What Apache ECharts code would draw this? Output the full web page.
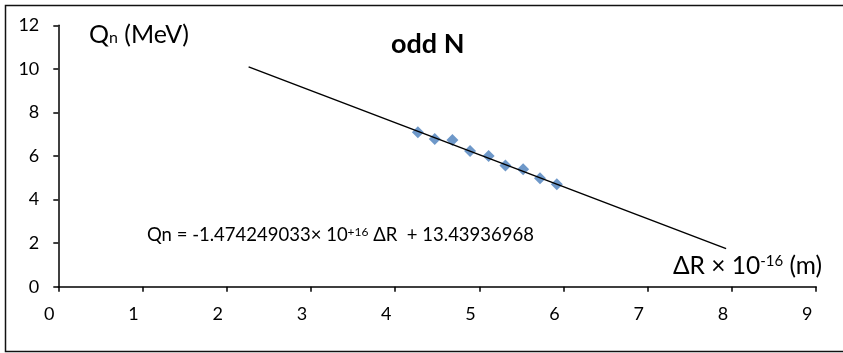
<!DOCTYPE html>
<html>
<head>
<meta charset="utf-8">
<script src="https://cdn.jsdelivr.net/npm/echarts@6/dist/echarts.min.js"></script>
<style>html,body{margin:0;padding:0;background:#fff}#c{width:843px;height:353px}</style>
</head>
<body>
<div id="c"></div>
<script>
// Data
const deltaR = [4.27, 4.47, 4.68, 4.89, 5.11, 5.31, 5.52, 5.72, 5.92];
const qn = [7.09, 6.78, 6.73, 6.23, 6.00, 5.56, 5.39, 4.98, 4.70];
const trendX = [2.26, 7.93];
const trendY = [10.09, 1.75];
const xTicks = [0, 1, 2, 3, 4, 5, 6, 7, 8, 9];
const yTicks = [0, 2, 4, 6, 8, 10, 12];
const titleText = 'odd N';

const FONT = 'Lato';
const tickRich = { t: { fontSize: 18, fontFamily: FONT, color: '#000' } };
const chart = echarts.init(document.getElementById('c'));
chart.setOption({
  animation: false,
  backgroundColor: '#fff',
  grid: { left: 58.3, right: 26.8, top: 25.3, bottom: 66.3, containLabel: false },
  xAxis: {
    type: 'value', min: xTicks[0], max: xTicks[xTicks.length - 1], interval: 1,
    splitLine: { show: false },
    axisLine: { show: true, onZero: false, lineStyle: { color: '#000', width: 1.5 } },
    axisTick: { show: true, inside: false, length: 5, lineStyle: { color: '#000', width: 1.5 } },
    axisLabel: {
      color: '#000', fontSize: 18, fontFamily: FONT, margin: 18, padding: [0, 18, 0, 0],
      formatter: v => '{t|' + v + '}', rich: tickRich
    }
  },
  yAxis: {
    type: 'value', min: yTicks[0], max: yTicks[yTicks.length - 1], interval: 2,
    splitLine: { show: false },
    axisLine: { show: true, onZero: false, lineStyle: { color: '#000', width: 1.5 } },
    axisTick: { show: true, inside: false, length: 5, lineStyle: { color: '#000', width: 1.5 } },
    axisLabel: {
      color: '#000', fontSize: 18, fontFamily: FONT, margin: 19,
      formatter: v => '{t|' + v + '}', rich: tickRich
    }
  },
  series: [
    {
      type: 'line',
      data: trendX.map((x, i) => [x, trendY[i]]),
      symbol: 'none',
      lineStyle: { color: '#000', width: 1.5 },
      z: 3
    },
    {
      type: 'scatter',
      data: deltaR.map((x, i) => [x, qn[i]]),
      symbol: 'diamond',
      symbolSize: 12,
      itemStyle: { color: '#4a7ebb' },
      z: 2
    }
  ],
  graphic: [
    {
      type: 'rect', silent: true, z: -1,
      shape: { x: 5.5, y: 5.5, width: 860, height: 346 },
      style: { fill: 'none', stroke: '#111', lineWidth: 1.5 }
    },
    {
      type: 'text', left: 89, top: 22,
      style: {
        text: '{a|Q}{b|n}{a| (MeV)}',
        rich: {
          a: { fontSize: 25, fontFamily: FONT, fill: '#000', verticalAlign: 'bottom' },
          b: { fontSize: 16, fontFamily: FONT, fill: '#000', verticalAlign: 'bottom', padding: [0, 0, 1, 0] }
        }
      }
    },
    {
      type: 'text', left: 391, top: 31,
      style: { text: titleText, fontSize: 27, fontWeight: 'bold', fontFamily: FONT, fill: '#000' }
    },
    {
      type: 'text', left: 147, top: 226,
      style: {
        text: '{a|Qn = -1.474249033× 10}{s|+16}{a| ΔR  + 13.43936968}',
        rich: {
          a: { fontSize: 18.5, fontFamily: FONT, fill: '#000', verticalAlign: 'bottom' },
          s: { fontSize: 12, fontFamily: FONT, fill: '#000', verticalAlign: 'top' }
        }
      }
    },
    {
      type: 'text', left: 673, top: 254,
      style: {
        text: '{a|ΔR × 10}{s|-16}{a| (m)}',
        rich: {
          a: { fontSize: 24.5, fontFamily: FONT, fill: '#000', verticalAlign: 'bottom' },
          s: { fontSize: 15, fontFamily: FONT, fill: '#000', verticalAlign: 'top' }
        }
      }
    }
  ]
});
</script>
</body>
</html>
